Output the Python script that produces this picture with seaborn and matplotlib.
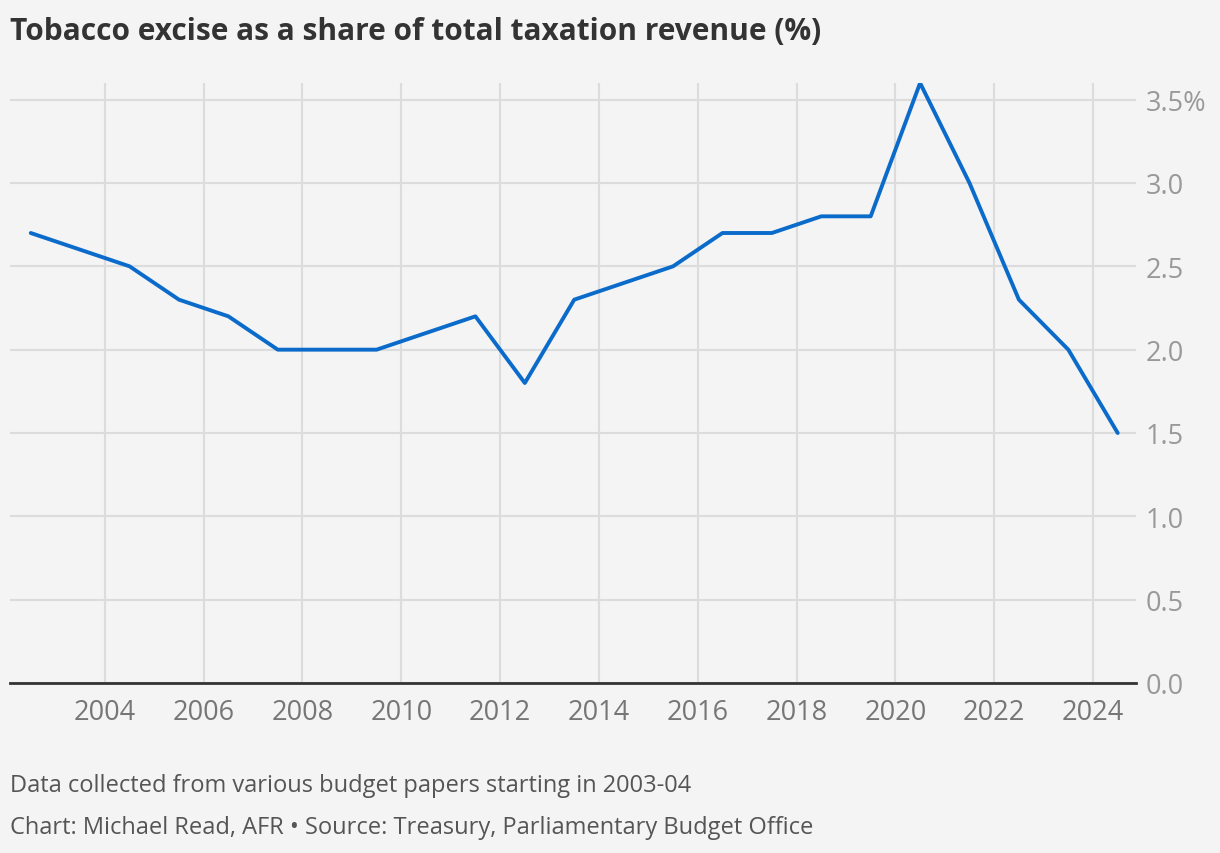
import numpy as np
import pandas as pd
import seaborn as sns
import matplotlib.pyplot as plt

# fiscal years, plotted at mid-year
years = [2002.5, 2003.5, 2004.5, 2005.5, 2006.5, 2007.5, 2008.5, 2009.5, 2010.5,
         2011.5, 2012.5, 2013.5, 2014.5, 2015.5, 2016.5, 2017.5, 2018.5, 2019.5,
         2020.5, 2021.5, 2022.5, 2023.5, 2024.5]
share = [2.7, 2.6, 2.5, 2.3, 2.2, 2.0, 2.0, 2.0, 2.1,
         2.2, 1.8, 2.3, 2.4, 2.5, 2.7, 2.7, 2.8, 2.8,
         3.6, 3.0, 2.3, 2.0, 1.5]
xticks = list(range(2004, 2025, 2))
yticks = [0, 0.5, 1.0, 1.5, 2.0, 2.5, 3.0, 3.5]
ylabels = ["0.0", "0.5", "1.0", "1.5", "2.0", "2.5", "3.0", "3.5%"]

df = pd.DataFrame({"year": years, "share": share})

bg = "#f4f4f4"
sns.set_theme(style="white")
plt.rcParams["font.family"] = ["Open Sans", "DejaVu Sans"]

fig = plt.figure(figsize=(12.2, 8.54), dpi=100, facecolor=bg)
ax = fig.add_axes([10 / 1220, 1 - 684 / 854, 1126 / 1220, 600 / 854])
ax.set_facecolor(bg)

sns.lineplot(data=df, x="year", y="share", ax=ax, color="#0b6bcb", linewidth=2.8)

ax.set_xlim(2002.08, 2024.87)
ax.set_ylim(0, 3.6)
ax.set_xticks(xticks)
ax.set_xticklabels([str(t) for t in xticks], color="#767676", fontsize=19.5)
ax.set_yticks(yticks)
ax.set_yticklabels(ylabels, color="#999999", fontsize=19.5)
ax.yaxis.tick_right()
ax.tick_params(axis="x", length=0, pad=11)
ax.tick_params(axis="y", length=0, pad=7)
ax.grid(True, color="#dcdcdc", linewidth=1.5)
ax.set_axisbelow(True)
for s in ["top", "left", "right"]:
    ax.spines[s].set_visible(False)
ax.spines["bottom"].set_color("#333333")
ax.spines["bottom"].set_linewidth(2)
ax.set_xlabel("")
ax.set_ylabel("")

fig.text(10 / 1220, 1 - 32 / 854, "Tobacco excise as a share of total taxation revenue (%)",
         fontsize=21.5, fontweight="bold", color="#333333", va="center")
fig.text(10 / 1220, 1 - 786 / 854, "Data collected from various budget papers starting in 2003-04",
         fontsize=17, color="#555555", va="center")
fig.text(10 / 1220, 1 - 828 / 854, "Chart: Michael Read, AFR \u2022 Source: Treasury, Parliamentary Budget Office",
         fontsize=17, color="#555555", va="center")

fig.savefig("out.png", dpi=100, facecolor=bg)
